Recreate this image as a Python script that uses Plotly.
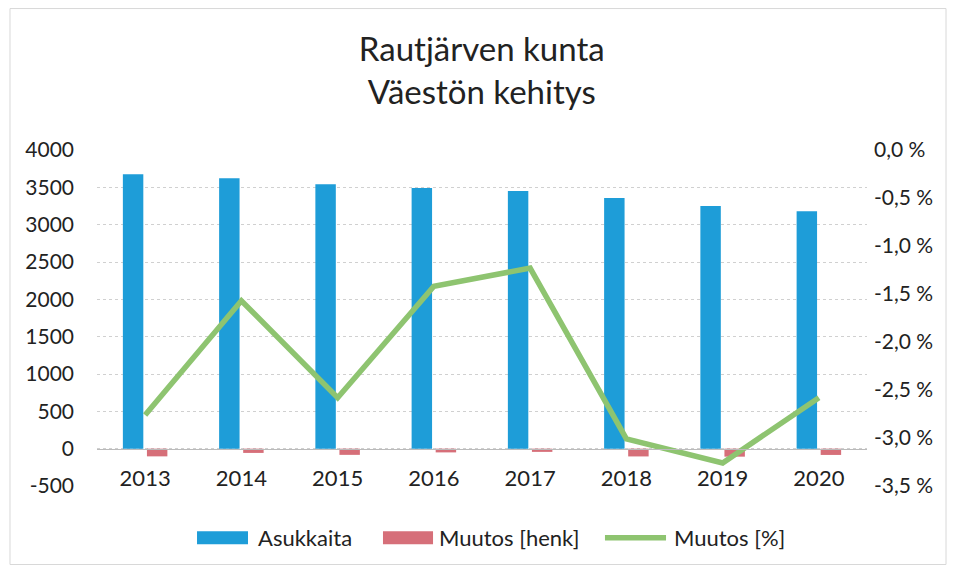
import plotly.graph_objects as go

years = ["2013", "2014", "2015", "2016", "2017", "2018", "2019", "2020"]
asukkaita = [3675, 3621, 3541, 3492, 3452, 3358, 3251, 3180]
muutos_henk = [-103, -57, -83, -50, -43, -104, -107, -84]
muutos_pct = [-2.76, -1.57, -2.58, -1.42, -1.23, -3.01, -3.26, -2.58]

left_ticks = [-500, 0, 500, 1000, 1500, 2000, 2500, 3000, 3500, 4000]
left_labels = [str(v) for v in left_ticks]
right_ticks = [0, -0.5, -1.0, -1.5, -2.0, -2.5, -3.0, -3.5]
right_labels = [f"{v:.1f} %".replace(".", ",") for v in right_ticks]

series_names = ["Asukkaita", "Muutos [henk]", "Muutos [%]"]
BLUE, RED, GREEN = "#1E9DD8", "#D66F79", "#8EC470"
FONT = "Lato, 'Open Sans', sans-serif"

fig = go.Figure()
fig.add_trace(go.Bar(x=years, y=asukkaita, name=series_names[0],
                     marker=dict(color=BLUE, line=dict(width=0))))
fig.add_trace(go.Bar(x=years, y=muutos_henk, name=series_names[1],
                     marker=dict(color=RED, line=dict(width=0))))
fig.add_trace(go.Scatter(x=years, y=muutos_pct, name=series_names[2], yaxis="y2",
                         mode="lines", line=dict(color=GREEN, width=5.5)))

fig.update_layout(
    width=940, height=557,
    margin=dict(l=89, r=81, t=142, b=79, autoexpand=False),
    paper_bgcolor="white", plot_bgcolor="white",
    font=dict(family=FONT, size=21, color="#222222"),
    title=dict(text="Rautjärven kunta<br>Väestön kehitys", x=0.504, xanchor="center",
               y=0.904, yanchor="middle", font=dict(size=33, color="#222222")),
    barmode="group", bargap=0.5, bargroupgap=0.15,
    xaxis=dict(anchor="free", position=0.11, showline=True, linecolor="#BBBBBB",
               linewidth=1, ticks="", showgrid=False, tickfont=dict(size=22),
               ticklabelstandoff=10, automargin=False),
    yaxis=dict(range=[-500, 4000], tickvals=left_ticks, ticktext=left_labels,
               showgrid=True, gridcolor="#D0D0D0", griddash="dot", zeroline=False,
               tickfont=dict(size=21), ticklabelstandoff=22, automargin=False),
    yaxis2=dict(overlaying="y", side="right", range=[-3.5, 0], tickvals=right_ticks,
                ticktext=right_labels, showgrid=False, zeroline=False,
                tickfont=dict(size=21), ticklabelstandoff=6, automargin=False),
    showlegend=False,
)

# custom legend with wide swatches (as in the original)
legend_y = -0.154
half_h = 0.019
swatches = [(0.1299, 0.1961, 0.2065, BLUE, "rect"),
            (0.3714, 0.4364, 0.4416, RED, "rect"),
            (0.6597, 0.7390, 0.7468, GREEN, "line")]
for name, (x0, x1, xt, col, kind) in zip(series_names, swatches):
    if kind == "rect":
        fig.add_shape(type="rect", xref="paper", yref="paper", x0=x0, x1=x1,
                      y0=legend_y - half_h, y1=legend_y + half_h,
                      fillcolor=col, line=dict(width=0))
    else:
        fig.add_shape(type="line", xref="paper", yref="paper", x0=x0, x1=x1,
                      y0=legend_y, y1=legend_y, line=dict(color=col, width=5.5))
    fig.add_annotation(text=name, xref="paper", yref="paper", x=xt, y=legend_y,
                       xanchor="left", yanchor="middle", showarrow=False,
                       font=dict(size=22, color="#222222"))

fig.add_shape(type="rect", xref="paper", yref="paper", x0=-0.113, x1=1.1026,
              y0=-0.2336, y1=1.421, line=dict(color="#D8D8D8", width=1))
fig.write_html("out.html")
